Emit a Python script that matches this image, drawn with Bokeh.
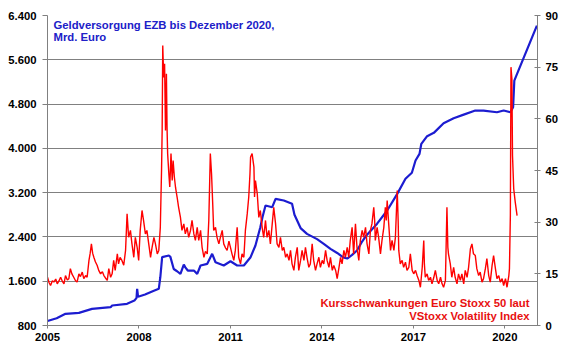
from bokeh.plotting import figure
from bokeh.models import LinearAxis, Range1d, FixedTicker, Label
from bokeh.embed import file_html
from bokeh.resources import INLINE

# ---- data ----
# ECB money supply (bn EUR), left axis
blue_years = [2005.00, 2005.30, 2005.59, 2006.03, 2006.46, 2007.07, 2007.12, 2007.61, 2007.85, 2007.92,
              2007.94, 2007.97, 2008.20, 2008.45, 2008.65, 2008.70, 2008.76, 2008.98, 2009.03, 2009.14,
              2009.25, 2009.36, 2009.47, 2009.52, 2009.60, 2009.80, 2009.91, 2010.02, 2010.24, 2010.40,
              2010.51, 2010.78, 2011.00, 2011.22, 2011.44, 2011.66, 2011.82, 2011.98, 2012.05, 2012.15,
              2012.37, 2012.48, 2012.75, 2013.02, 2013.10, 2013.30, 2013.51, 2013.84, 2014.06, 2014.28,
              2014.50, 2014.70, 2014.83, 2014.99, 2015.15, 2015.30, 2015.45, 2015.81, 2016.14, 2016.47,
              2016.74, 2016.95, 2017.07, 2017.20, 2017.26, 2017.45, 2017.67, 2017.99, 2018.32, 2018.65,
              2019.03, 2019.30, 2019.74, 2019.96, 2020.18, 2020.27, 2020.31, 2020.40, 2021.05]
blue_vals = [880, 930, 1011, 1029, 1101, 1131, 1161, 1192, 1250, 1300,
             1463, 1320, 1360, 1420, 1463, 1672, 2034, 2064, 2040, 1820,
             1780, 1733, 1900, 1850, 1793, 1793, 1733, 1884, 1914, 2095,
             1943, 1884, 1960, 1884, 1884, 2034, 2245, 2575, 2756, 2967,
             2937, 3088, 3058, 3000, 2800, 2560, 2455, 2360, 2275, 2185,
             2110, 2030, 2010, 2075, 2155, 2300, 2420, 2640, 2877, 3178,
             3450, 3560, 3780, 3900, 4082, 4220, 4280, 4455, 4545, 4610,
             4683, 4683, 4652, 4683, 4652, 4743, 5225, 5346, 6218]

# VStoxx volatility index, right axis
red_years = [2005.00, 2005.05, 2005.10, 2005.16, 2005.21, 2005.27, 2005.32, 2005.38, 2005.43, 2005.49,
             2005.54, 2005.59, 2005.65, 2005.70, 2005.75, 2005.80, 2005.86, 2005.92, 2005.97, 2006.03,
             2006.08, 2006.14, 2006.19, 2006.25, 2006.30, 2006.36, 2006.40, 2006.44, 2006.48, 2006.52,
             2006.57, 2006.63, 2006.68, 2006.74, 2006.80, 2006.85, 2006.90, 2006.96, 2007.01, 2007.07,
             2007.12, 2007.17, 2007.22, 2007.29, 2007.33, 2007.38, 2007.44, 2007.50, 2007.56, 2007.61,
             2007.66, 2007.72, 2007.77, 2007.83, 2007.88, 2007.94, 2007.99, 2008.04, 2008.10, 2008.15,
             2008.21, 2008.26, 2008.32, 2008.38, 2008.43, 2008.49, 2008.54, 2008.60, 2008.65, 2008.70,
             2008.74, 2008.76, 2008.78, 2008.81, 2008.84, 2008.87, 2008.90, 2008.92, 2008.94, 2008.98,
             2009.01, 2009.05, 2009.09, 2009.12, 2009.16, 2009.20, 2009.25, 2009.30, 2009.36, 2009.41,
             2009.47, 2009.52, 2009.58, 2009.63, 2009.69, 2009.74, 2009.80, 2009.85, 2009.91, 2009.96,
             2010.02, 2010.07, 2010.13, 2010.18, 2010.24, 2010.29, 2010.34, 2010.38, 2010.42, 2010.45,
             2010.51, 2010.56, 2010.62, 2010.67, 2010.73, 2010.78, 2010.84, 2010.89, 2010.95, 2011.00,
             2011.05, 2011.11, 2011.16, 2011.22, 2011.27, 2011.33, 2011.38, 2011.44, 2011.49, 2011.55,
             2011.60, 2011.64, 2011.66, 2011.71, 2011.77, 2011.79, 2011.82, 2011.88, 2011.93, 2011.98,
             2012.04, 2012.09, 2012.15, 2012.20, 2012.26, 2012.31, 2012.37, 2012.42, 2012.48, 2012.53,
             2012.59, 2012.64, 2012.70, 2012.75, 2012.81, 2012.86, 2012.92, 2012.97, 2013.02, 2013.08,
             2013.13, 2013.19, 2013.24, 2013.30, 2013.35, 2013.41, 2013.46, 2013.51, 2013.57, 2013.62,
             2013.68, 2013.73, 2013.79, 2013.84, 2013.90, 2013.95, 2014.01, 2014.06, 2014.12, 2014.17,
             2014.23, 2014.28, 2014.34, 2014.39, 2014.45, 2014.50, 2014.56, 2014.61, 2014.66, 2014.72,
             2014.77, 2014.83, 2014.88, 2014.93, 2014.99, 2015.04, 2015.10, 2015.15, 2015.21, 2015.26,
             2015.32, 2015.37, 2015.43, 2015.48, 2015.54, 2015.59, 2015.64, 2015.70, 2015.73, 2015.75,
             2015.81, 2015.86, 2015.92, 2015.97, 2016.03, 2016.08, 2016.11, 2016.14, 2016.19, 2016.25,
             2016.30, 2016.36, 2016.41, 2016.47, 2016.50, 2016.52, 2016.57, 2016.63, 2016.68, 2016.74,
             2016.79, 2016.85, 2016.90, 2016.96, 2017.01, 2017.07, 2017.12, 2017.18, 2017.23, 2017.29,
             2017.34, 2017.36, 2017.39, 2017.45, 2017.50, 2017.56, 2017.61, 2017.67, 2017.72, 2017.78,
             2017.83, 2017.89, 2017.94, 2017.99, 2018.05, 2018.10, 2018.13, 2018.15, 2018.21, 2018.26,
             2018.32, 2018.37, 2018.43, 2018.48, 2018.54, 2018.59, 2018.65, 2018.70, 2018.76, 2018.81,
             2018.87, 2018.92, 2018.97, 2019.03, 2019.08, 2019.14, 2019.19, 2019.25, 2019.30, 2019.36,
             2019.41, 2019.47, 2019.52, 2019.58, 2019.63, 2019.69, 2019.74, 2019.80, 2019.85, 2019.91,
             2019.96, 2020.02, 2020.07, 2020.13, 2020.15, 2020.18, 2020.20, 2020.23, 2020.25, 2020.29,
             2020.34, 2020.40]
red_vals = [14.0, 12.5, 11.6, 13.0, 12.6, 13.5, 12.1, 13.0, 14.0, 12.8,
            12.1, 14.5, 13.2, 13.6, 16.5, 15.0, 14.0, 13.0, 12.6, 15.0,
            14.2, 15.5, 13.6, 14.5, 14.0, 18.9, 21.0, 23.7, 21.0, 19.8,
            18.5, 17.4, 16.0, 15.0, 15.6, 14.5, 13.8, 13.1, 16.5, 14.0,
            15.0, 18.9, 16.0, 20.8, 17.9, 19.8, 18.9, 17.5, 21.8, 32.4,
            25.6, 27.6, 23.7, 19.8, 25.6, 22.7, 18.9, 27.6, 33.4, 30.5,
            26.6, 27.6, 23.7, 19.8, 22.7, 25.6, 23.7, 20.8, 21.8, 28.5,
            45.0, 56.6, 81.3, 72.0, 76.0, 56.6, 73.1, 57.6, 49.9, 44.0,
            40.2, 49.9, 42.1, 47.9, 43.1, 40.0, 37.3, 34.3, 31.4, 27.6,
            29.5, 26.6, 28.5, 25.6, 27.6, 30.5, 26.6, 24.7, 28.5, 24.7,
            27.6, 22.7, 19.8, 21.5, 20.8, 30.5, 49.9, 44.0, 35.0, 27.6,
            28.5, 25.6, 23.7, 25.6, 27.6, 23.7, 22.5, 21.8, 24.5, 22.7,
            20.8, 18.9, 21.8, 28.5, 19.8, 17.9, 20.8, 19.8, 27.6, 32.4,
            37.3, 44.0, 48.9, 49.9, 46.0, 37.3, 42.1, 38.2, 31.4, 33.4,
            28.5, 25.6, 30.5, 25.6, 27.6, 23.7, 29.5, 34.3, 29.5, 23.7,
            22.7, 25.6, 21.8, 22.7, 19.8, 20.8, 18.9, 21.8, 17.9, 16.0,
            19.8, 22.7, 16.0, 18.9, 21.8, 18.9, 22.7, 19.8, 16.9, 17.9,
            23.7, 18.9, 16.0, 17.9, 19.8, 16.9, 18.9, 17.9, 21.8, 18.9,
            16.9, 19.8, 16.0, 17.4, 16.0, 13.6, 16.9, 19.8, 17.9, 21.8,
            19.8, 22.7, 19.8, 24.7, 28.5, 20.8, 29.5, 22.7, 18.9, 24.7,
            27.6, 25.6, 28.5, 23.7, 20.8, 27.6, 29.5, 34.3, 30.5, 24.7,
            28.5, 25.6, 20.8, 24.7, 28.5, 34.3, 30.5, 36.3, 29.5, 21.8,
            24.7, 21.8, 25.6, 39.2, 30.5, 21.8, 17.9, 18.9, 16.9, 18.4,
            16.0, 16.9, 20.8, 16.0, 15.0, 16.0, 14.5, 13.1, 11.1, 16.9,
            24.7, 17.9, 14.0, 15.0, 13.1, 14.0, 12.1, 14.0, 16.0, 13.1,
            12.1, 14.0, 12.1, 11.1, 13.1, 34.3, 22.7, 20.8, 17.9, 14.0,
            16.9, 14.0, 12.1, 15.0, 13.1, 15.0, 12.1, 16.0, 14.0, 16.9,
            22.3, 23.7, 20.8, 20.3, 16.5, 14.5, 15.5, 12.6, 13.6, 16.5,
            19.4, 14.5, 12.6, 17.4, 20.3, 16.5, 13.6, 14.5, 12.6, 13.6,
            11.6, 13.6, 11.1, 14.5, 16.5, 31.9, 75.0, 71.6, 49.4, 39.7,
            35.8, 31.9]

x_ticks = [2005, 2008, 2011, 2014, 2017, 2020]
left_ticks = [800, 1600, 2400, 3200, 4000, 4800, 5600, 6400]
left_labels = ["800", "1.600", "2.400", "3.200", "4.000", "4.800", "5.600", "6.400"]
right_ticks = [0, 15, 30, 45, 60, 75, 90]

title_lines = ["Geldversorgung EZB bis Dezember 2020,", "Mrd. Euro"]
red_lines = ["Kursschwankungen Euro Stoxx 50 laut", "VStoxx Volatility Index"]
source_text = "Quelle: EZB, Deutsche Börse, Bloomberg, Baader Bank Kapitalmarktanalyse"

# ---- styling ----
FONT = "Liberation Sans"
FS = "11.3px"
BLUE = "#1c1cd0"
RED = "#ff0000"
GRID = "#808080"
X0, X1 = 2005.0, 2021.07

p = figure(width=580, height=359,
           x_range=Range1d(X0, X1), y_range=Range1d(800, 6400),
           output_backend="svg", toolbar_location=None,
           min_border_left=47, min_border_right=43, min_border_top=15, min_border_bottom=34,
           background_fill_color="white", border_fill_color="white")
p.extra_y_ranges = {"vs": Range1d(0, 90)}
p.outline_line_color = None
p.xgrid.grid_line_color = None
p.ygrid.ticker = FixedTicker(ticks=left_ticks[1:])
p.ygrid.grid_line_color = GRID
p.ygrid.grid_line_width = 1

def style_axis(ax):
    ax.axis_line_color = GRID
    ax.major_tick_line_color = GRID
    ax.minor_tick_line_color = None
    ax.major_label_text_font = FONT
    ax.major_label_text_font_size = FS
    ax.major_label_text_font_style = "bold"
    ax.major_label_text_color = "#000000"

xa = p.xaxis[0]
style_axis(xa)
xa.ticker = FixedTicker(ticks=x_ticks)
xa.major_label_overrides = {t: str(t) for t in x_ticks}
xa.major_tick_in = 0
xa.major_tick_out = 3
xa.major_label_standoff = 4

ya = p.yaxis[0]
style_axis(ya)
ya.ticker = FixedTicker(ticks=left_ticks)
ya.major_label_overrides = dict(zip(left_ticks, left_labels))
ya.major_tick_in = 0
ya.major_tick_out = 5
ya.major_label_standoff = 6

ra = LinearAxis(y_range_name="vs", ticker=FixedTicker(ticks=right_ticks))
style_axis(ra)
ra.major_label_overrides = {t: str(t) for t in right_ticks}
ra.major_tick_in = 3
ra.major_tick_out = 3
ra.major_label_standoff = 5
p.add_layout(ra, "right")

# ---- series ----
p.line(blue_years, blue_vals, line_color=BLUE, line_width=2.2)
p.line(red_years, red_vals, y_range_name="vs", line_color=RED, line_width=1.4)

# ---- texts ----
def lab(**kw):
    base = dict(text_font=FONT, text_font_size=FS, text_font_style="bold")
    base.update(kw)
    p.add_layout(Label(**base))

lab(x=X0, y=6400, x_offset=6, y_offset=-3, text=title_lines[0], text_baseline="top", text_color="#2020c8")
lab(x=X0, y=6400, x_offset=6, y_offset=-15, text=title_lines[1], text_baseline="top", text_color="#2020c8")
lab(x=X1, y=0, y_range_name="vs", x_offset=-8, y_offset=23, text=red_lines[0],
    text_align="right", text_baseline="middle", text_color="#e81010")
lab(x=X1, y=0, y_range_name="vs", x_offset=-8, y_offset=10, text=red_lines[1],
    text_align="right", text_baseline="middle", text_color="#e81010")
lab(x=X1, y=800, x_offset=41, y_offset=-26, text=source_text,
    text_align="right", text_baseline="middle", text_color="#000000")

open("out.html", "w").write(file_html(p, INLINE))
